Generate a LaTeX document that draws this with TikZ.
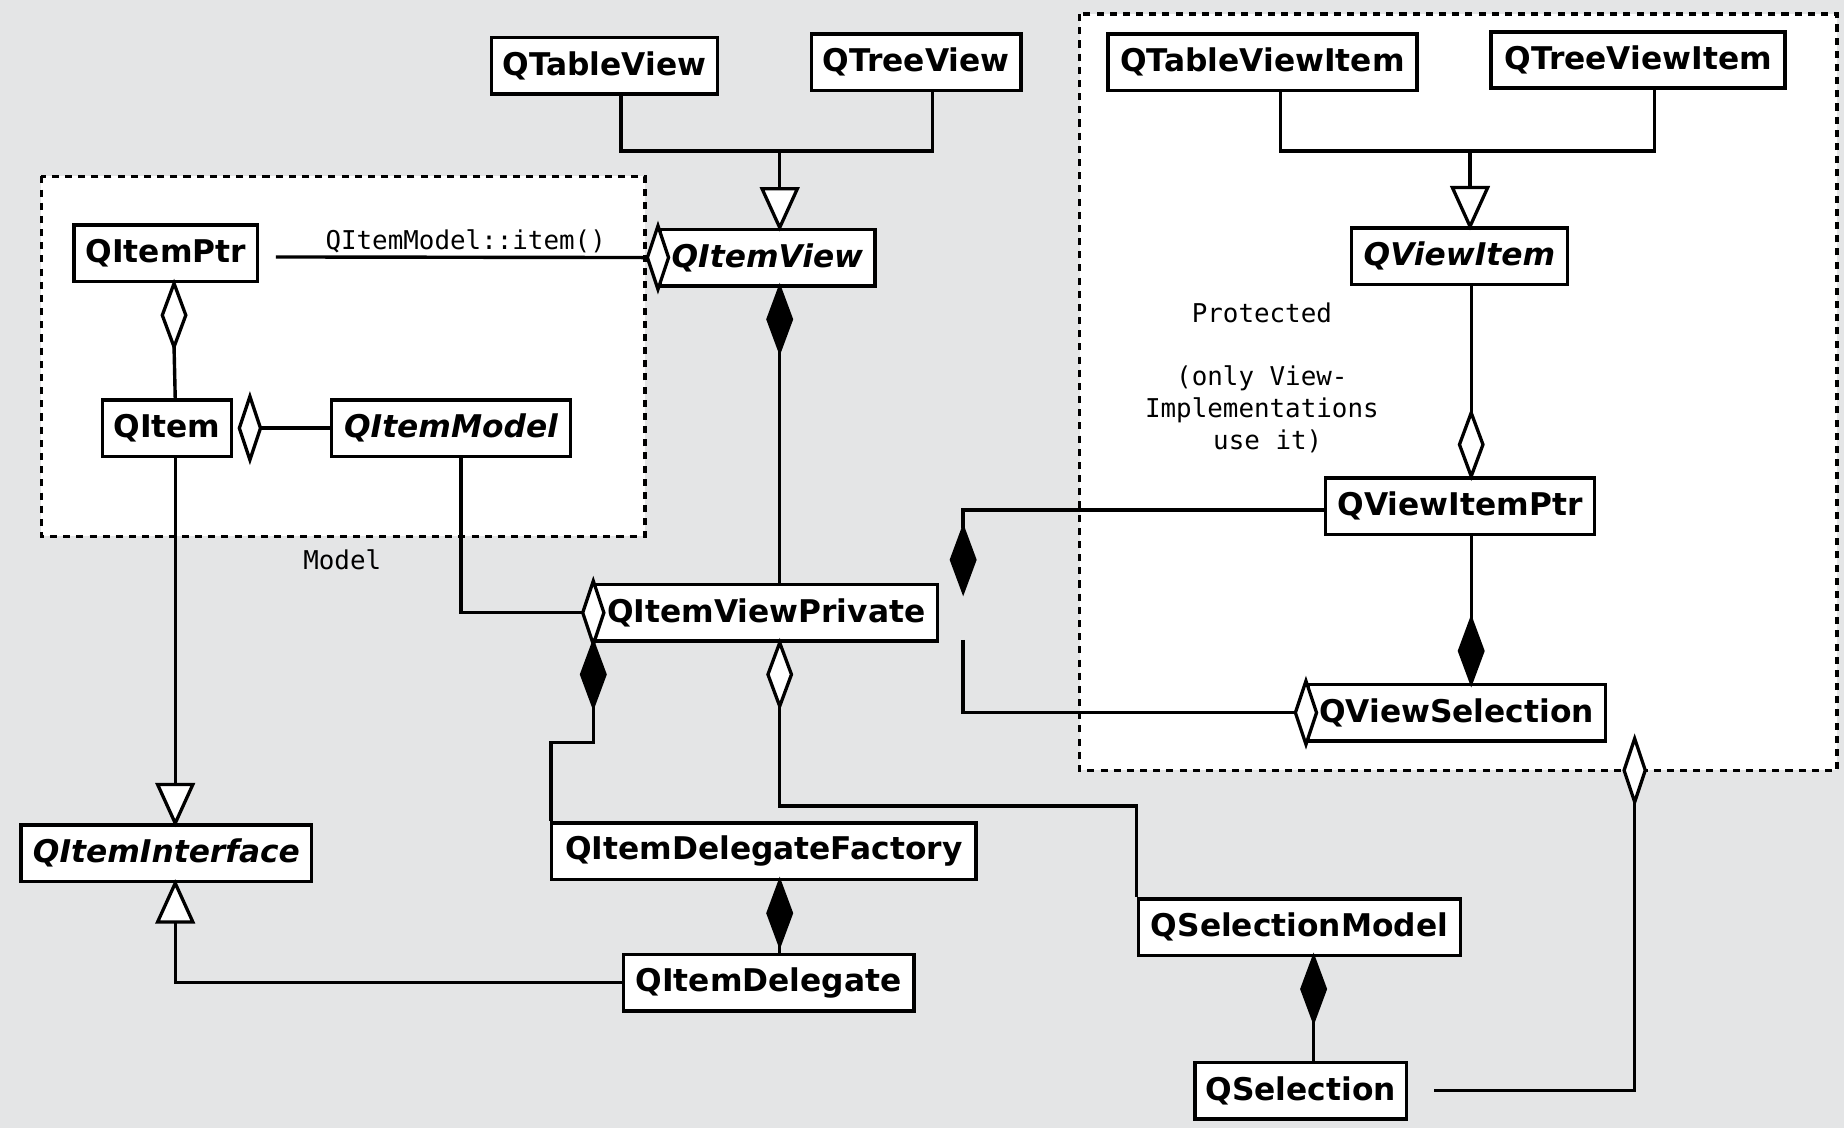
\documentclass[tikz,border=0pt]{standalone}
\usepackage{fontspec}
\newfontfamily\boxfont{DejaVu Sans}
\newfontfamily\lblfont{DejaVu Sans Mono}
\usetikzlibrary{calc}
\definecolor{bgc}{RGB}{228,229,230}
\tikzset{
  cls/.style={draw, line width=1.5pt, fill=white, inner sep=0pt, minimum height=24pt,
    minimum width=#1*0.5pt, font=\boxfont\fontsize{13.3}{16}\selectfont\bfseries},
  icls/.style={cls=#1, font=\boxfont\fontsize{13.3}{16}\selectfont\bfseries\itshape},
  lbl/.style={inner sep=0pt, font=\lblfont\fontsize{11}{13.5}\selectfont},
  conn/.style={line width=1.45pt},
  dashbox/.style={draw, fill=white, line width=1.4pt, dash pattern=on 3pt off 2.6pt},
  shp/.style={draw, line width=1.4pt, line join=miter},
  odn/.pic={\path[shp, fill=white] (0,0) -- (10,27) -- (0,54) -- (-10,27) -- cycle;},
  fdn/.pic={\path[shp, fill=black] (0,0) -- (10,27) -- (0,54) -- (-10,27) -- cycle;},
  oup/.pic={\path[shp, fill=white] (0,0) -- (10,-27) -- (0,-54) -- (-10,-27) -- cycle;},
  fup/.pic={\path[shp, fill=black] (0,0) -- (10,-27) -- (0,-54) -- (-10,-27) -- cycle;},
  ocen/.pic={\path[shp, fill=white] (0,-27) -- (9,0) -- (0,27) -- (-9,0) -- cycle;},
  tdn/.pic={\path[shp, fill=white] (0,0) -- (15,-33) -- (-15,-33) -- cycle;},
  tup/.pic={\path[shp, fill=white] (0,0) -- (15,33) -- (-15,33) -- cycle;},
}
\begin{document}
\begin{tikzpicture}[x=0.5pt,y=-0.5pt]
\fill[bgc] (0,0) rectangle (1568,959);
\useasboundingbox (0,0) rectangle (1568,959);

% dashed groups
\path[dashbox] (35,150) rectangle (548.5,456);
\path[dashbox] (918,12) rectangle (1562,655);

% labels
\node[lbl] (lItem) at (396,205) {QItemModel::item()};
\node[lbl] (lModel) at (291,476) {Model};
\node[lbl, align=center] (lProt) at (1073,321) {Protected\\[13.5pt](only View-\\Implementations\\\hspace*{5pt}use it)};

% classes
\node[cls=192] (QTableView) at (514,56) {QTableView};
\node[cls=178] (QTreeView) at (779,53) {QTreeView};
\node[icls=183] (QItemView) at (652.5,219) {QItemView};
\node[cls=156] (QItemPtr) at (141,215.5) {QItemPtr};
\node[cls=110] (QItem) at (142,364) {QItem};
\node[icls=203] (QItemModel) at (383.5,364) {QItemModel};
\node[cls=291] (QItemViewPrivate) at (651.5,521) {QItemViewPrivate};
\node[icls=247] (QItemInterface) at (141.5,725.5) {QItemInterface};
\node[cls=361] (QItemDelegateFactory) at (649.5,724) {QItemDelegateFactory};
\node[cls=247] (QItemDelegate) at (653.5,835.5) {QItemDelegate};
\node[cls=274] (QSelectionModel) at (1105,788.5) {QSelectionModel};
\node[cls=180] (QSelection) at (1106,927.5) {QSelection};
\node[cls=263] (QTableViewItem) at (1073.5,53) {QTableViewItem};
\node[cls=250] (QTreeViewItem) at (1393,51) {QTreeViewItem};
\node[icls=184] (QViewItem) at (1241,218) {QViewItem};
\node[cls=229] (QViewItemPtr) at (1241.5,430.5) {QViewItemPtr};
\node[cls=253] (QViewSelection) at (1238.5,606) {QViewSelection};

\coordinate (j1) at (663,127);
\coordinate (j2) at (1250,127);
\coordinate (dA) at (819,449);
\coordinate (dB) at (819,544);
\coordinate (dC) at (1390,655);

% generalizations
\draw[conn] ($(QTableView.south)+(14,0)$) -- ++(0,47) -| ($(QTreeView.south)+(14,0)$);
\draw[conn] (j1) -- ($(QItemView.north)+(10.5,-33)$);
\pic at ($(QItemView.north)+(10.5,0)$) {tdn};

\draw[conn] ($(QTableViewItem.south)+(15.5,0)$) -- ++(0,50) -| ($(QTreeViewItem.south)+(14,0)$);
\draw[conn] (j2) -- ($(QViewItem.north)+(9,-33)$);
\pic at ($(QViewItem.north)+(9,0)$) {tdn};

\draw[conn] ($(QItem.south)+(7,0)$) -- ($(QItemInterface.north)+(7.5,-33)$);
\pic at ($(QItemInterface.north)+(7.5,0)$) {tdn};

\draw[conn] (QItemDelegate.west) -| ($(QItemInterface.south)+(7.5,33)$);
\pic at ($(QItemInterface.south)+(7.5,0)$) {tup};

% model group
\draw[conn] ($(QItemPtr.east)+(14,3)$) -- ($(QItemView.west)+(-9,0)$);
\pic at (QItemView.west) {ocen};

\draw[conn] ($(QItemPtr.south)+(7,54)$) -- ($(QItem.north)+(7,0)$);
\pic at ($(QItemPtr.south)+(7,0)$) {odn};

\draw[conn] ($(QItem.east)+(23,0)$) -- (QItemModel.west);
\pic at ($(QItem.east)+(14,0)$) {ocen};

\draw[conn] ($(QItemModel.south)+(8.5,0)$) |- ($(QItemViewPrivate.west)+(-9,0)$);
\pic at (QItemViewPrivate.west) {ocen};

% view side
\draw[conn] ($(QItemView.south)+(10.5,54)$) -- ($(QItemViewPrivate.north)+(11.5,0)$);
\pic at ($(QItemView.south)+(10.5,0)$) {fdn};

\draw[conn] ($(QItemViewPrivate.south west)+(0,52)$) -- ++(0,33) -| ($(QItemDelegateFactory.north west)+(1,0)$);
\pic at (QItemViewPrivate.south west) {fdn};

\draw[conn] ($(QItemViewPrivate.south)+(11.5,52)$) -- ++(0,87) -| (QSelectionModel.north west);
\pic at ($(QItemViewPrivate.south)+(11.5,0)$) {odn};

\draw[conn] ($(QItemDelegateFactory.south)+(13.5,54)$) -- ($(QItemDelegate.north)+(9.5,0)$);
\pic at ($(QItemDelegateFactory.south)+(13.5,0)$) {fdn};

\draw[conn] ($(QSelectionModel.south)+(12,54)$) -- ($(QSelection.north)+(11,0)$);
\pic at ($(QSelectionModel.south)+(12,0)$) {fdn};

% view item group
\draw[conn] ($(QViewItem.south)+(10,0)$) -- ($(QViewItemPtr.north)+(9.5,-54)$);
\pic at ($(QViewItemPtr.north)+(9.5,0)$) {oup};

\draw[conn] ($(QViewItemPtr.south)+(9.5,0)$) -- ($(QViewSelection.north)+(12.5,-54)$);
\pic at ($(QViewSelection.north)+(12.5,0)$) {fup};

\draw[conn] ($(QViewItemPtr.west)+(0,3)$) -| (dA);
\pic at (dA) {fdn};

\draw[conn] (dB) |- ($(QViewSelection.west)+(-9,0)$);
\pic at (QViewSelection.west) {ocen};

\draw[conn] ($(QSelection.east)+(22,0)$) -| ($(dC)+(0,27)$);
\pic at (dC) {ocen};
\end{tikzpicture}
\end{document}
